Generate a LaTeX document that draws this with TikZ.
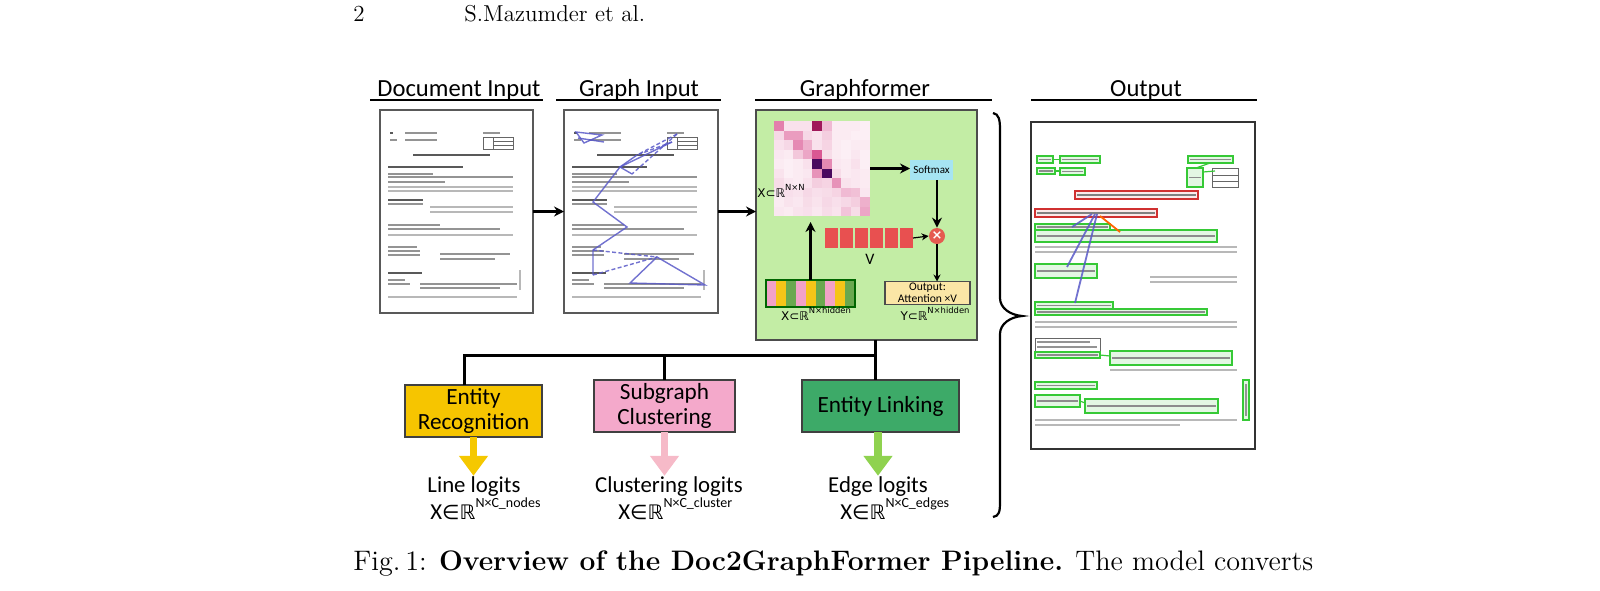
\documentclass[tikz,border=0pt]{standalone}
\usepackage{fontspec}
\newfontfamily\calib{Carlito}
\newfontfamily\symf{DejaVu Sans}
\usetikzlibrary{arrows.meta}

\definecolor{gffill}{HTML}{C3EDA5}
\definecolor{smxc}{HTML}{A6E4F2}
\definecolor{vred}{HTML}{E85050}
\definecolor{mulc}{HTML}{E55A50}
\definecolor{outy}{HTML}{FBE6A6}
\definecolor{stpk}{HTML}{F2A2C8}
\definecolor{stye}{HTML}{F5C518}
\definecolor{stgr}{HTML}{6AA84F}
\definecolor{erc}{HTML}{F6C500}
\definecolor{scc}{HTML}{F4A9CB}
\definecolor{elc}{HTML}{3DAA68}
\definecolor{yarr}{HTML}{F5C800}
\definecolor{parr}{HTML}{F6BAC8}
\definecolor{garr}{HTML}{8FD24F}
\definecolor{pk}{HTML}{D43A80}
\definecolor{dmag}{HTML}{A0185A}
\definecolor{dpur}{HTML}{4A0A5E}
\definecolor{gedgec}{HTML}{5A5AC8}
\definecolor{obgreen}{HTML}{36C936}
\definecolor{obred}{HTML}{D03030}

% gray strokes standing for the small printed text of a form page
\newcommand\docpage{%
  \draw[txd] (10,23)--(13,23); \draw[txt] (25,23)--(57,23); \draw[txt] (103,23)--(120,23);
  \draw[txt] (10,30)--(17,30); \draw[txt] (25,30)--(57,30);
  \draw[tbl] (103,27) rectangle (133,39);
  \draw[tbl] (113,31)--(133,31) (113,35)--(133,35) (113,27)--(113,39);
  \draw[txd] (33,45)--(110,45);
  \draw[txd] (8,57)--(83,57);
  \draw[txt] (8,64)--(53,64);
  \draw[txt] (8,67)--(133,67);
  \draw[txt] (8,72)--(65,72);
  \draw[txf] (8,77)--(133,77);
  \draw[txf] (8,81)--(133,81);
  \draw[txd] (8,90)--(43,90);
  \draw[txt] (8,94)--(43,94);
  \draw[txf] (50,97)--(133,97);
  \draw[txf] (50,102)--(133,102);
  \draw[txt] (8,115)--(60,115);
  \draw[txt] (8,119)--(120,119);
  \draw[txf] (8,125)--(133,125);
  \draw[txt] (8,137)--(37,137);
  \draw[txt] (8,141)--(40,141);
  \draw[txt] (8,145)--(40,145); \draw[txt] (60,144)--(130,144); \draw[txt] (60,149)--(115,149);
  \draw[txd] (8,163)--(42,163);
  \draw[txt] (8,170)--(25,170);
  \draw[txt] (8,174)--(30,174); \draw[txt] (40,174)--(137,174);
  \draw[txt] (40,178)--(120,178);
  \draw[txf] (8,187)--(137,187);
  \draw[txf] (140,160)--(140,180);
}

\begin{document}
\begin{tikzpicture}[x=0.5pt,y=-0.5pt,
  txt/.style={line width=1.1pt, black!42},
  txd/.style={line width=1.4pt, black!65},
  txf/.style={line width=0.6pt, black!28},
  tbl/.style={line width=0.4pt, black!60},
  gedge/.style={line width=0.7pt, gedgec, opacity=0.85},
  gdash/.style={gedge, dash pattern=on 2pt off 1.2pt},
  hdr/.style={font=\calib\fontsize{12.3}{14}\selectfont, anchor=base, inner sep=0},
  uline/.style={line width=0.8pt},
  page/.style={draw=black!65, line width=0.6pt, fill=white, inner sep=0, outer sep=0},
  arrK/.style={line width=1.4pt, -{Stealth[length=5pt,width=5pt]}},
  arrT/.style={line width=0.6pt, -{Stealth[length=3.5pt,width=3.5pt]}},
  taskbox/.style={draw=black!75, line width=0.9pt, inner sep=0, outer sep=0,
     minimum height=26pt, align=center, font=\calib\fontsize{11.6}{12.5}\selectfont},
  lbl/.style={font=\calib\fontsize{11.4}{13}\selectfont, inner sep=0},
  fat/.style={line width=3.8pt, -{Triangle[length=10pt,width=14pt]}},
  bus/.style={line width=1.5pt},
  gbox/.style={draw=obgreen, line width=0.6pt, fill=obgreen!14,
     path picture={\draw[black!45,line width=0.8pt]
       ([xshift=1pt]path picture bounding box.west) -- ([xshift=-1pt]path picture bounding box.east);}},
  rbox/.style={draw=obred, line width=0.7pt, fill=obred!10,
     path picture={\draw[black!50,line width=0.9pt]
       ([xshift=1pt]path picture bounding box.west) -- ([xshift=-1pt]path picture bounding box.east);}},
  glink/.style={obgreen, line width=0.6pt},
]
\useasboundingbox (0,0) rectangle (1600,590);

% ---------- running head ----------
\node[anchor=base west, inner sep=0, font=\fontsize{11.5}{13}\selectfont] (pnum) at (353,21) {2};
\node[anchor=base west, inner sep=0, font=\fontsize{11.5}{13}\selectfont] (rhead) at (464,21) {S.Mazumder et al.};

% ---------- column headers ----------
\node[hdr] (hdoc) at (459,96) {Document Input};
\draw[uline] (370,100) -- (543,100);
\node[hdr] (hgraph) at (639,96) {Graph Input};
\draw[uline] (556,100) -- (721,100);
\node[hdr] (hgf) at (865,96) {Graphformer};
\draw[uline] (755,100) -- (992,100);
\node[hdr] (hout) at (1146,96) {Output};
\draw[uline] (1031,100) -- (1257,100);

% ---------- document input ----------
\node[page, minimum width=76.5pt, minimum height=101.5pt] (doc) at (456.5,211.5) {};
\begin{scope}[shift={(380,110)}]
  \docpage
\end{scope}

% ---------- graph input ----------
\node[page, minimum width=77pt, minimum height=101.5pt] (graph) at (641,211.5) {};
\begin{scope}[shift={(564,110)}]
  \docpage
  \coordinate (gA) at (113,24);
  \coordinate (gB) at (108,32);
  \coordinate (gC) at (73,45);
  \coordinate (gD) at (56,57);
  \coordinate (gE) at (68,64);
  \coordinate (gF) at (29,92);
  \coordinate (gG) at (63,117);
  \coordinate (gH) at (29,140);
  \coordinate (gI) at (93,147);
  \coordinate (gJ) at (29,165);
  \coordinate (gK) at (66,173);
  \coordinate (gL) at (141,175);
  \draw[gedge] (12,22) -- (38,25) -- (20,33) -- cycle;
  \draw[gedge] (14,28) -- (40,32);
  \draw[gdash] (gA) -- (gC);
  \draw[gdash] (gB) -- (gC);
  \draw[gdash] (gA) -- (gE);
  \draw[gedge] (gB) -- (gD) -- (gF) -- (gG) -- (gH) -- (gJ);
  \draw[gedge] (gC) -- (gD) -- (gE);
  \draw[gdash] (gH) -- (gI);
  \draw[gdash] (gJ) -- (gI);
  \draw[gedge] (gI) -- (gK) -- (gL) -- cycle;
\end{scope}

% ---------- graphformer block ----------
\node[draw=black!70, line width=0.7pt, fill=gffill, inner sep=0, outer sep=0,
      minimum width=110.5pt, minimum height=115pt] (gf) at (866.5,225) {};

% attention map
\foreach \rowvals [count=\r from 0] in {
  {65,15,15,15,200,35,10,10,10,8},
  {20,50,50,20,15,25,10,10,8,8},
  {15,20,60,40,15,22,10,8,10,10},
  {12,10,28,45,85,18,10,8,12,8},
  {10,8,10,15,300,60,12,10,15,8},
  {14,8,10,12,55,300,18,10,12,10},
  {18,12,10,15,25,22,55,14,12,10},
  {12,16,14,20,16,18,22,35,32,12},
  {10,14,12,18,14,20,16,20,25,40},
  {12,10,14,16,12,18,14,30,18,45}} {
  \foreach \v [count=\c from 0] in \rowvals {
    \ifnum\v>100
      \ifnum\v=200 \def\cc{dmag}\else\def\cc{dpur}\fi
    \else
      \edef\cc{pk!\v!white}%
    \fi
    \fill[fill=\cc] ({774+\c*9.6},{121+\r*9.5}) rectangle +(9.6,9.5);
  }
}
\node[inner sep=0, outer sep=0, minimum width=48pt, minimum height=47.5pt] (mat) at (822,168.5) {};

\node[fill=smxc, inner sep=0, outer sep=0, minimum width=21.5pt, minimum height=10pt,
      font=\calib\fontsize{5.5}{6}\selectfont] (smx) at (931.5,170) {Softmax};
\node[circle, fill=mulc, inner sep=0, minimum size=8pt, text=white,
      font=\symf\fontsize{6.5}{7}\selectfont\bfseries] (mul) at (937,236) {×};

\foreach \i in {1,...,6} {
  \node[fill=vred, inner sep=0, outer sep=0, minimum width=6.5pt, minimum height=10pt]
    (v\i) at ({825+6.5+(\i-1)*15},238) {};
}
\node[inner sep=0, font=\calib\fontsize{8}{9}\selectfont] (vlab) at (870,259) {V};

\node[draw=black!70, line width=0.6pt, fill=outy, inner sep=0, outer sep=0,
      minimum width=42.5pt, minimum height=11.5pt, align=center,
      font=\calib\fontsize{5.8}{5.9}\selectfont] (outb) at (927.5,293) {Output:\\Attention ×V};

% striped input embedding
\foreach \i/\col in {0/stpk,1/stye,2/stgr,3/stpk,4/stye,5/stgr,6/stpk,7/stye,8/stgr} {
  \fill[\col] ({766+\i*9.9},280) rectangle +(9.9,27);
}
\node[draw=black!60!green, line width=0.7pt, inner sep=0, outer sep=0,
      minimum width=44.5pt, minimum height=13.5pt] (xbar) at (810.5,293.5) {};

\node[inner sep=0, font=\symf\fontsize{6}{7}\selectfont] (xnn) at (781,191)
  {X⊂ℝ\raisebox{3.2pt}{\fontsize{4.2}{4.5}\selectfont N×N}};
\node[inner sep=0, font=\symf\fontsize{6}{7}\selectfont] (xnh) at (816,314)
  {X⊂ℝ\raisebox{3.2pt}{\fontsize{4.2}{4.5}\selectfont N×hidden}};
\node[inner sep=0, font=\symf\fontsize{6}{7}\selectfont] (ynh) at (935,314)
  {Y⊂ℝ\raisebox{3.2pt}{\fontsize{4.2}{4.5}\selectfont N×hidden}};

\draw[arrK] (mat.east) -- (mat.east -| smx.west);
\draw[arrK] (smx.south -| mul.north) -- (mul.north);
\draw[arrT] (v6.east) -- (mul.west);
\draw[arrT] (mul.south) -- (mul.south |- outb.north);
\draw[arrK, shorten >=3pt] (xbar.north) -- (xbar.north |- mat.south);

% ---------- main flow arrows ----------
\draw[arrK] (doc.east) -- (graph.west);
\draw[arrK] (graph.east) -- (graph.east -| gf.west);

% ---------- output page ----------
\node[page, line width=0.8pt, draw=black!80, minimum width=112pt, minimum height=163.5pt] (out) at (1143,285.5) {};
\draw[gbox] (1037,156) rectangle (1053,163);
\draw[gbox] (1060,156) rectangle (1100,163);
\draw[glink] (1053,159.5) -- (1060,159.5);
\draw[gbox] (1037,168) rectangle (1055,174);
\draw[gbox] (1060,168) rectangle (1085,175);
\draw[glink] (1055,171) -- (1060,171);
\draw[gbox] (1188,156) rectangle (1233,163);
\draw[gbox] (1187,168) rectangle (1203,187);
\draw[tbl] (1212,168) rectangle (1238,187);
\draw[tbl] (1212,175) -- (1238,175) (1212,181) -- (1238,181);
\draw[glink] (1203,172) -- (1215,171);
\draw[glink] (1196,168) -- (1210,163);
\draw[rbox] (1075,191) rectangle (1198,199);
\draw[rbox] (1035,209) rectangle (1157,217);
\draw[gbox] (1035,224) rectangle (1110,230);
\draw[gbox] (1035,230) rectangle (1217,242);
\draw[txf] (1035,247) -- (1237,247);
\draw[txf] (1035,252) -- (1237,252);
\draw[gbox] (1035,264) rectangle (1097,278);
\draw[txf] (1150,277) -- (1237,277);
\draw[txf] (1150,282) -- (1237,282);
\draw[gbox] (1035,302) rectangle (1113,309);
\draw[gbox] (1035,309) rectangle (1207,315);
\draw[txf] (1035,322) -- (1237,322);
\draw[txf] (1035,327) -- (1237,327);
\draw[tbl, fill=white] (1035,338) rectangle (1100,352);
\draw[txt] (1037,342) -- (1090,342) (1037,347) -- (1097,347);
\draw[gbox] (1035,352) rectangle (1100,358);
\draw[gbox] (1110,351) rectangle (1232,365);
\draw[glink] (1100,355) -- (1110,356);
\draw[txf] (1110,370) -- (1237,370);
\draw[gbox] (1035,382) rectangle (1097,389);
\draw[gbox] (1035,395) rectangle (1080,407);
\draw[gbox] (1085,399) rectangle (1218,413);
\draw[glink] (1080,401) -- (1085,403);
\draw[draw=obgreen, line width=0.6pt, fill=obgreen!14] (1243,380) rectangle (1249,420);
\draw[txt, line width=0.8pt] (1246,384) -- (1246,416);
\draw[txf] (1035,420) -- (1237,420);
\draw[txf] (1035,425) -- (1180,425);
\draw[gedge, line width=0.9pt] (1095,214) -- (1067,267);
\draw[gedge, line width=0.9pt] (1097,214) -- (1075,303);
\draw[gedge, line width=0.9pt] (1092,214) -- (1072,227);
\draw[line width=0.9pt, orange!80!red] (1100,216) -- (1120,232);

% ---------- brace ----------
\draw[line width=1.1pt] (993,113) .. controls (999,114) and (1000,120) .. (1000,130)
  -- (1000,298) .. controls (1000,308) and (1010,315) .. (1022,316)
  .. controls (1010,317) and (1000,324) .. (1000,334)
  -- (1000,502) .. controls (1000,512) and (999,516) .. (993,517);

% ---------- task heads ----------
\node[taskbox, fill=erc, minimum width=68.5pt] (er) at (473.5,411) {Entity\\Recognition};
\node[taskbox, fill=scc, minimum width=70.5pt] (sc) at (664.5,406) {Subgraph\\Clustering};
\node[taskbox, fill=elc, minimum width=78.5pt] (el) at (880.5,406) {Entity Linking};

\coordinate (jL) at (464,355);
\coordinate (jM) at (664,355);
\coordinate (jR) at (875,355);
\draw[bus] (jL |- er.north) -- (jL) -- (jR) -- (jR |- gf.south);
\draw[bus] (jM) -- (jM |- sc.north);
\draw[bus] (jR) -- (jR |- el.north);

% ---------- outputs ----------
\node[lbl, anchor=base] (ll) at (474,492) {Line logits};
\node[lbl, anchor=base] (cl) at (669,492) {Clustering logits};
\node[lbl, anchor=base] (egl) at (878,492) {Edge logits};

\node[lbl, anchor=base west] (lm) at (430,519)
  {X{\symf\fontsize{10}{12}\selectfont ∈ℝ}\raisebox{6pt}{\fontsize{7}{8}\selectfont N×C\_nodes}};
\node[lbl, anchor=base west] (cm) at (618,519)
  {X{\symf\fontsize{10}{12}\selectfont ∈ℝ}\raisebox{6pt}{\fontsize{7}{8}\selectfont N×C\_cluster}};
\node[lbl, anchor=base west] (em) at (840,519)
  {X{\symf\fontsize{10}{12}\selectfont ∈ℝ}\raisebox{6pt}{\fontsize{7}{8}\selectfont N×C\_edges}};

\draw[fat, yarr] (er.south) -- (er.south |- ll.north);
\draw[fat, parr] (sc.south) -- (sc.south |- cl.north);
\draw[fat, garr] (el.south -| egl.north) -- (egl.north);

% ---------- caption ----------
\node[anchor=base west, inner sep=0, font=\fontsize{14.1}{17}\selectfont] (cap) at (353,570)
  {Fig.\,1: \textbf{Overview of the Doc2GraphFormer Pipeline.} The model converts};

\end{tikzpicture}
\end{document}
